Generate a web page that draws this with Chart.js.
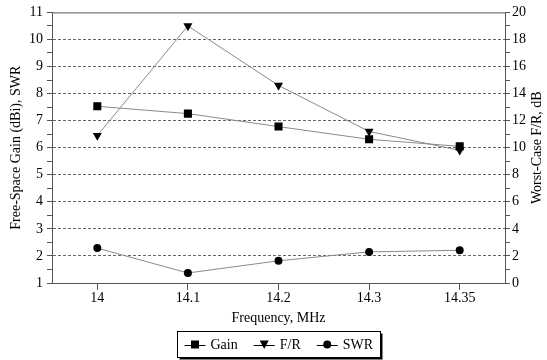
<!DOCTYPE html>
<html>
<head>
<meta charset="utf-8">
<script src="https://cdn.jsdelivr.net/npm/chart.js@4.4.0/dist/chart.umd.min.js"></script>
<style>
html, body { margin: 0; padding: 0; background: #fff; }
</style>
</head>
<body>
<canvas id="chart" width="547" height="360"></canvas>
<script>
// values
const frequencies = ["14", "14.1", "14.2", "14.3", "14.35"];
const gainValues = [7.53, 7.26, 6.78, 6.31, 6.05];
const frValues = [10.9, 19.0, 14.6, 11.2, 9.8];
const swrValues = [2.29, 1.37, 1.82, 2.15, 2.21];

const FONT = "'Liberation Serif', 'Times New Roman', serif";
const AXIS = "#555";
const LINE = "#8a8a8a";

function drawMarker(ctx, style, x, y) {
    ctx.save();
    ctx.fillStyle = "#000";
    ctx.beginPath();
    if (style === "rect") {
        ctx.rect(x - 4, y - 4, 8, 8);
    } else if (style === "triangle") {
        ctx.moveTo(x - 4.5, y - 4);
        ctx.lineTo(x + 4.5, y - 4);
        ctx.lineTo(x, y + 4.5);
        ctx.closePath();
    } else {
        ctx.arc(x, y, 4, 0, Math.PI * 2);
    }
    ctx.fill();
    ctx.restore();
}

const extrasPlugin = {
    id: "extras",
    afterDraw(chart) {
        let ctx = chart.ctx;
        let area = chart.chartArea;
        ctx.save();
        // top frame line
        ctx.strokeStyle = AXIS;
        ctx.lineWidth = 1;
        ctx.beginPath();
        ctx.moveTo(area.left, area.top + 0.5);
        ctx.lineTo(area.right, area.top + 0.5);
        ctx.stroke();

        // right axis title, reading upward
        ctx.fillStyle = "#000";
        ctx.font = "14px " + FONT;
        ctx.textAlign = "center";
        ctx.textBaseline = "middle";
        ctx.translate(537, (area.top + area.bottom) / 2);
        ctx.rotate(-Math.PI / 2);
        ctx.fillText("Worst-Case F/R, dB", 0, 0);
        ctx.restore();

        // legend box with shadow
        ctx.save();
        ctx.font = "14px " + FONT;
        let items = chart.data.datasets.map(ds => ({
            label: ds.label,
            style: ds.pointStyle,
            w: 26 + ctx.measureText(ds.label).width
        }));
        let gap = 16;
        let padX = 7;
        let total = items.reduce((s, it) => s + it.w, 0) + gap * (items.length - 1);
        let boxW = Math.round(total + padX * 2);
        let boxH = 26;
        let cx = (area.left + area.right) / 2;
        let bx = Math.round(cx - boxW / 2) + 0.5;
        let by = 331.5;
        ctx.fillStyle = "#000";
        ctx.fillRect(bx + 2, by + 2, boxW, boxH);
        ctx.fillStyle = "#fff";
        ctx.fillRect(bx, by, boxW, boxH);
        ctx.strokeStyle = "#000";
        ctx.lineWidth = 1;
        ctx.strokeRect(bx, by, boxW, boxH);
        let x = bx + padX;
        let y = by + boxH / 2;
        items.forEach(it => {
            ctx.strokeStyle = "#000";
            ctx.beginPath();
            ctx.moveTo(x, Math.round(y) + 0.5);
            ctx.lineTo(x + 21, Math.round(y) + 0.5);
            ctx.stroke();
            drawMarker(ctx, it.style, x + 10.5, y);
            ctx.fillStyle = "#000";
            ctx.textAlign = "left";
            ctx.textBaseline = "middle";
            ctx.fillText(it.label, x + 26, y + 1);
            x += it.w + gap;
        });
        ctx.restore();
    }
};

let ctx = document.getElementById("chart").getContext("2d");
let chart = new Chart(ctx, {
    type: "line",
    data: {
        labels: frequencies,
        datasets: [
            {
                label: "Gain",
                data: gainValues,
                yAxisID: "y",
                pointStyle: "rect",
                pointRadius: 5.7,
                borderColor: LINE,
                borderWidth: 1,
                pointBackgroundColor: "#000",
                pointBorderColor: "#000",
                pointBorderWidth: 0
            },
            {
                label: "F/R",
                data: frValues,
                yAxisID: "y1",
                pointStyle: "triangle",
                rotation: 180,
                pointRadius: 5.2,
                borderColor: LINE,
                borderWidth: 1,
                pointBackgroundColor: "#000",
                pointBorderColor: "#000",
                pointBorderWidth: 0
            },
            {
                label: "SWR",
                data: swrValues,
                yAxisID: "y",
                pointStyle: "circle",
                pointRadius: 4,
                borderColor: LINE,
                borderWidth: 1,
                pointBackgroundColor: "#000",
                pointBorderColor: "#000",
                pointBorderWidth: 0
            }
        ]
    },
    options: {
        responsive: false,
        animation: false,
        events: [],
        layout: { padding: { top: 11, bottom: 33, left: 0, right: 0 } },
        plugins: {
            legend: { display: false },
            tooltip: { enabled: false }
        },
        scales: {
            x: {
                type: "category",
                offset: true,
                grid: {
                    offset: false,
                    drawOnChartArea: false,
                    tickLength: 7,
                    tickColor: AXIS
                },
                border: { color: AXIS },
                ticks: { color: "#000", font: { family: FONT, size: 14 }, padding: 0 },
                title: {
                    display: true,
                    text: "Frequency, MHz",
                    color: "#000",
                    font: { family: FONT, size: 14 },
                    padding: { top: 2, bottom: 0 }
                },
                afterFit(scale) { scale.height = 44; }
            },
            y: {
                position: "left",
                min: 1,
                max: 11,
                ticks: {
                    stepSize: 0.5,
                    autoSkip: false,
                    color: "#000",
                    font: { family: FONT, size: 14 },
                    padding: 4,
                    callback: v => Number.isInteger(v) ? String(v) : ""
                },
                grid: {
                    color: c => (Number.isInteger(c.tick.value) && c.tick.value > 1 && c.tick.value < 11) ? "#666" : "rgba(0,0,0,0)",
                    tickColor: AXIS,
                    tickLength: 5
                },
                border: { color: AXIS, dash: [3, 2] },
                title: {
                    display: true,
                    text: "Free-Space Gain (dBi), SWR",
                    color: "#000",
                    font: { family: FONT, size: 14 },
                    padding: { top: 8, bottom: 0 }
                },
                afterFit(scale) { scale.width = 52; }
            },
            y1: {
                position: "right",
                min: 0,
                max: 20,
                ticks: {
                    stepSize: 1,
                    autoSkip: false,
                    color: "#000",
                    font: { family: FONT, size: 14 },
                    padding: 2,
                    callback: v => v % 2 === 0 ? String(v) : ""
                },
                grid: {
                    drawOnChartArea: false,
                    tickColor: AXIS,
                    tickLength: 5
                },
                border: { color: AXIS },
                afterFit(scale) { scale.width = 42; }
            }
        }
    },
    plugins: [extrasPlugin]
});
</script>
</body>
</html>
